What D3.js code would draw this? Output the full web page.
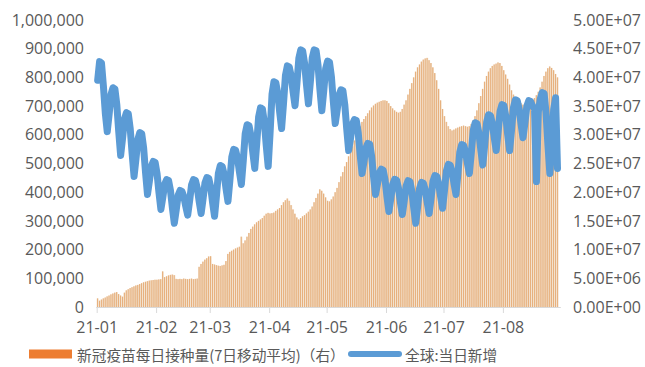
<!DOCTYPE html>
<html>
<head>
<meta charset="utf-8">
<script src="https://cdn.jsdelivr.net/npm/d3@7"></script>
<style>
  html, body { margin: 0; padding: 0; background: #fff; }
  svg text { fill: #595959; }
</style>
</head>
<body>
<svg id="chart" width="645" height="367"></svg>
<script>
// First day of both daily series
const startDate = "2021-01-01";
const endDate = "2021-09-01";

// Global COVID-19 vaccine doses per day, 7-day moving average (millions), right axis
const vaccineDosesM = [
  1.50, 1.10, 1.30, 1.50, 1.65, 1.85, 2.00, 2.20, 2.35, 2.50,
  2.60, 2.25, 2.00, 1.80, 2.50, 2.90, 3.10, 3.30, 3.45, 3.60,
  3.75, 3.85, 4.00, 4.15, 4.30, 4.40, 4.50, 4.60, 4.65, 4.70,
  4.75, 4.75, 4.80, 4.85, 6.20, 5.20, 5.35, 5.50, 5.60, 5.65,
  5.55, 4.90, 4.85, 4.90, 4.85, 4.95, 4.90, 4.85, 4.90, 4.95,
  4.85, 4.90, 4.95, 7.00, 7.50, 7.90, 8.25, 8.50, 8.80, 8.85,
  7.50, 7.40, 7.30, 7.20, 7.15, 7.25, 7.35, 8.00, 9.25, 9.60,
  9.80, 10.00, 10.20, 10.35, 10.50, 12.25, 11.10, 11.60, 12.25, 12.90,
  13.60, 14.00, 14.40, 14.75, 15.00, 15.25, 15.50, 15.90, 16.25, 16.40,
  16.30, 16.35, 16.45, 16.75, 17.00, 17.25, 17.75, 18.25, 18.60, 18.90,
  18.50, 17.75, 17.00, 16.25, 15.60, 15.25, 15.50, 15.80, 16.00, 16.30,
  16.60, 17.00, 17.50, 18.25, 19.00, 19.75, 20.50, 20.25, 19.75, 19.10,
  18.50, 18.40, 18.75, 19.25, 20.00, 20.75, 21.75, 22.75, 23.50, 24.50,
  25.25, 26.25, 27.25, 28.00, 29.00, 30.00, 30.75, 31.50, 32.25, 32.75,
  33.25, 33.75, 34.25, 34.75, 35.10, 35.40, 35.60, 35.75, 35.90, 36.00,
  36.00, 35.90, 35.50, 35.00, 34.60, 34.25, 34.00, 33.85, 34.00, 34.50,
  35.25, 36.00, 37.00, 38.00, 39.00, 40.00, 41.00, 41.75, 42.25, 42.75,
  43.10, 43.30, 43.40, 43.00, 42.50, 41.75, 40.75, 39.50, 38.00, 36.00,
  34.50, 33.25, 32.25, 31.50, 31.00, 30.75, 30.90, 31.10, 31.25, 31.40,
  31.50, 31.60, 31.50, 31.40, 31.50, 31.90, 32.50, 33.25, 34.25, 35.50,
  36.75, 38.00, 39.25, 40.25, 41.00, 41.60, 42.00, 42.25, 42.40, 42.60,
  42.50, 42.00, 41.25, 40.50, 39.75, 38.75, 37.75, 37.00, 36.40, 36.00,
  35.75, 35.50, 35.25, 35.00, 35.00, 35.25, 35.60, 36.00, 36.40, 36.90,
  37.50, 38.25, 39.25, 40.25, 41.00, 41.60, 41.90, 41.65, 41.25, 40.60,
  40.00
];

// Global new confirmed cases per day (thousands), left axis
const newCasesK = [
  790, 855, 850, 770, 675, 611, 672, 741, 764, 760,
  705, 611, 528, 588, 655, 677, 673, 621, 533, 455,
  516, 585, 608, 604, 554, 468, 392, 438, 490, 507,
  504, 465, 398, 340, 382, 428, 444, 441, 406, 345,
  292, 338, 389, 406, 403, 384, 350, 320, 370, 425,
  444, 441, 414, 367, 326, 376, 432, 451, 448, 417,
  363, 316, 387, 466, 493, 490, 462, 412, 368, 440,
  522, 549, 546, 518, 470, 427, 510, 604, 635, 632,
  597, 536, 483, 567, 662, 694, 690, 643, 561, 490,
  608, 741, 785, 781, 744, 679, 622, 709, 807, 840,
  836, 805, 750, 701, 779, 867, 896, 892, 849, 774,
  708, 783, 868, 896, 893, 843, 758, 684, 753, 831,
  857, 853, 802, 715, 639, 686, 739, 757, 754, 704,
  619, 545, 588, 637, 653, 650, 606, 531, 465, 507,
  554, 570, 567, 525, 454, 392, 427, 467, 480, 477,
  443, 384, 333, 378, 428, 445, 442, 414, 365, 322,
  369, 422, 440, 437, 403, 344, 292, 349, 413, 434,
  431, 407, 364, 326, 379, 438, 458, 455, 429, 384,
  344, 405, 474, 497, 494, 471, 429, 392, 462, 540,
  566, 563, 541, 500, 465, 536, 615, 642, 639, 605,
  546, 495, 565, 644, 670, 667, 639, 589, 545, 609,
  681, 705, 702, 665, 601, 545, 616, 695, 722, 719,
  689, 636, 590, 642, 700, 719, 716, 700, 690, 437,
  680, 725, 747, 744, 677, 564, 465, 571, 689, 729,
  483
];

// Axis ticks
const leftTicks = [0, 100000, 200000, 300000, 400000, 500000, 600000, 700000, 800000, 900000, 1000000];
const rightTicks = [0, 5e6, 1e7, 1.5e7, 2e7, 2.5e7, 3e7, 3.5e7, 4e7, 4.5e7, 5e7];
const monthTicks = ["2021-01-01", "2021-02-01", "2021-03-01", "2021-04-01",
                    "2021-05-01", "2021-06-01", "2021-07-01", "2021-08-01"];

// Legend entries
const seriesNames = ["新冠疫苗每日接种量(7日移动平均)（右）", "全球:当日新增"];
const seriesColors = ["#ED7D31", "#5B9BD5"];

const svg = d3.select("#chart");
const numFont = "'Open Sans', 'Noto Sans', sans-serif";
const cjkFont = "'Noto Sans CJK SC', 'Noto Sans', sans-serif";

const parse = d3.utcParse("%Y-%m-%d");
const t0 = parse(startDate);
const dates = vaccineDosesM.map((_, i) => d3.utcDay.offset(t0, i));

const plot = { left: 96.7, right: 562.3, top: 20, bottom: 307 };

const x = d3.scaleUtc().domain([t0, parse(endDate)]).range([plot.left, plot.right]);
const yLeft = d3.scaleLinear().domain([0, 1e6]).range([plot.bottom, plot.top]);
const yRight = d3.scaleLinear().domain([0, 5e7]).range([plot.bottom, plot.top]);

const step = x(d3.utcDay.offset(t0, 1)) - x(t0);
const slotCenter = d => x(d) + step / 2;

// Vaccination bars: a pale body per day with a thin, soft stripe
const bars = svg.append("g");
bars.selectAll("rect.body")
  .data(vaccineDosesM)
  .join("rect")
  .attr("class", "body")
  .attr("x", (d, i) => x(dates[i]))
  .attr("width", step)
  .attr("y", d => yRight(d * 1e6))
  .attr("height", d => plot.bottom - yRight(d * 1e6))
  .attr("fill", "#F0DBC3");
bars.selectAll("rect.stripe")
  .data(vaccineDosesM)
  .join("rect")
  .attr("class", "stripe")
  .attr("x", (d, i) => x(dates[i]) + 0.4)
  .attr("width", 0.8)
  .attr("y", d => yRight(d * 1e6))
  .attr("height", d => plot.bottom - yRight(d * 1e6))
  .attr("fill", "#E5A66D");

// X axis
const xAxis = d3.axisBottom(x)
  .tickValues(monthTicks.map(parse))
  .tickSize(6)
  .tickPadding(6)
  .tickFormat(d3.utcFormat("%y-%m"));
const gx = svg.append("g")
  .attr("transform", `translate(0,${plot.bottom})`)
  .call(xAxis);
gx.select(".domain")
  .attr("d", `M${plot.left - 0.5},0.5H${plot.right - 1.5}`)
  .attr("stroke", "#D9D9D9");
gx.selectAll(".tick line").attr("stroke", "#D9D9D9").attr("y1", 0.5);
gx.selectAll(".tick text")
  .attr("font-family", numFont)
  .attr("font-size", 16)
  .attr("dy", "0.9em");

// Left axis (new cases)
const gl = svg.append("g")
  .attr("transform", "translate(84,0)")
  .call(d3.axisLeft(yLeft).tickValues(leftTicks).tickSize(0).tickPadding(0)
    .tickFormat(d3.format(",")));
gl.select(".domain").remove();
gl.selectAll("text").attr("font-family", numFont).attr("font-size", 16);

// Right axis (vaccine doses), scientific notation as 5.00E+07
const sci = v => {
  const [m, e] = v.toExponential(2).split("e");
  const n = +e;
  return m + "E" + (n < 0 ? "-" : "+") + String(Math.abs(n)).padStart(2, "0");
};
const gr = svg.append("g")
  .attr("transform", "translate(573,0)")
  .call(d3.axisRight(yRight).tickValues(rightTicks).tickSize(0).tickPadding(0)
    .tickFormat(sci));
gr.select(".domain").remove();
gr.selectAll("text").attr("font-family", numFont).attr("font-size", 16);

// New cases line
const line = d3.line()
  .x((d, i) => slotCenter(dates[i]))
  .y(d => yLeft(d * 1000));
svg.append("path")
  .datum(newCasesK)
  .attr("d", line)
  .attr("fill", "none")
  .attr("stroke", seriesColors[1])
  .attr("stroke-width", 7)
  .attr("stroke-linejoin", "round")
  .attr("stroke-linecap", "round");

// Legend
const legY = 354;
const legend = svg.append("g");
legend.append("rect")
  .attr("x", 29).attr("y", legY - 4.5)
  .attr("width", 43).attr("height", 9)
  .attr("fill", seriesColors[0]);
legend.append("text")
  .attr("x", 77).attr("y", legY)
  .attr("dominant-baseline", "central")
  .attr("font-family", cjkFont).attr("font-size", 14.7)
  .text(seriesNames[0]);
legend.append("line")
  .attr("x1", 351).attr("x2", 399)
  .attr("y1", legY).attr("y2", legY)
  .attr("stroke", seriesColors[1])
  .attr("stroke-width", 6)
  .attr("stroke-linecap", "round");
legend.append("text")
  .attr("x", 405).attr("y", legY)
  .attr("dominant-baseline", "central")
  .attr("font-family", cjkFont).attr("font-size", 14.7)
  .text(seriesNames[1]);
</script>
</body>
</html>
